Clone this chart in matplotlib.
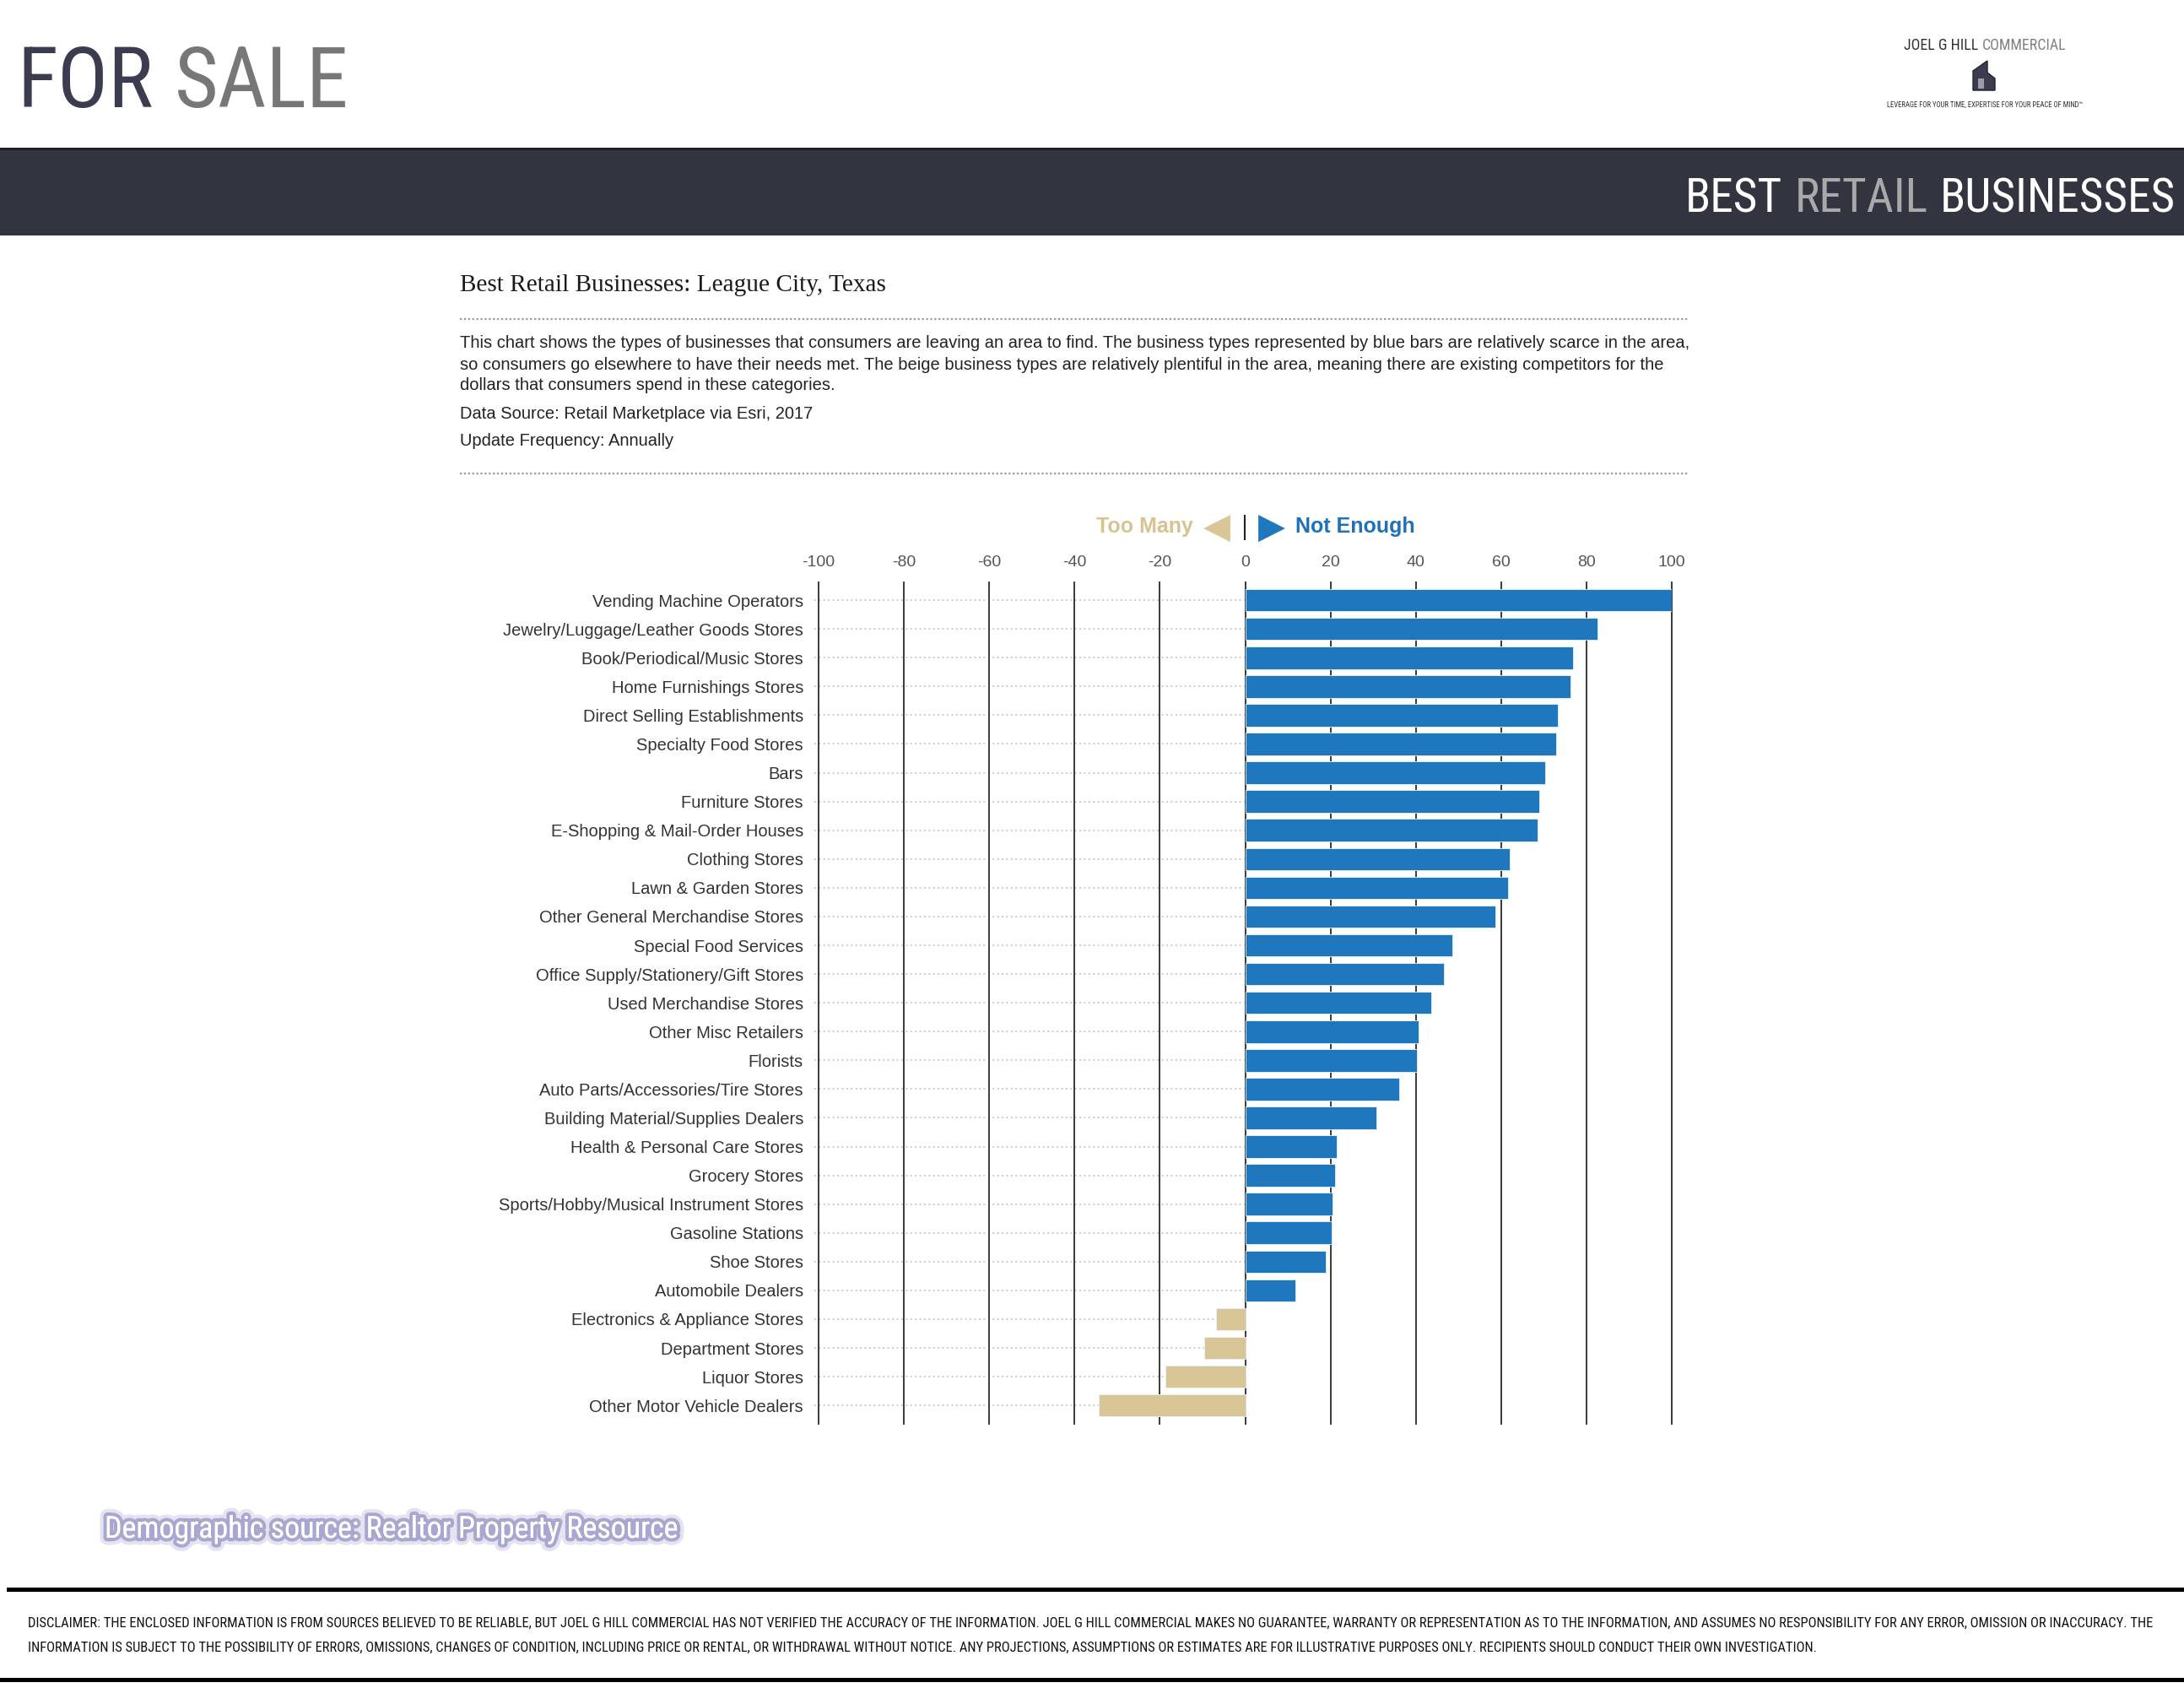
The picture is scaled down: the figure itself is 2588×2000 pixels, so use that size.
import matplotlib
matplotlib.use('Agg')
import matplotlib.pyplot as plt
import matplotlib.patheffects as pe
from matplotlib import font_manager
from matplotlib.patches import Rectangle, Polygon
from matplotlib.lines import Line2D

W, H = 2588, 2000

categories = [
    "Vending Machine Operators",
    "Jewelry/Luggage/Leather Goods Stores",
    "Book/Periodical/Music Stores",
    "Home Furnishings Stores",
    "Direct Selling Establishments",
    "Specialty Food Stores",
    "Bars",
    "Furniture Stores",
    "E-Shopping & Mail-Order Houses",
    "Clothing Stores",
    "Lawn & Garden Stores",
    "Other General Merchandise Stores",
    "Special Food Services",
    "Office Supply/Stationery/Gift Stores",
    "Used Merchandise Stores",
    "Other Misc Retailers",
    "Florists",
    "Auto Parts/Accessories/Tire Stores",
    "Building Material/Supplies Dealers",
    "Health & Personal Care Stores",
    "Grocery Stores",
    "Sports/Hobby/Musical Instrument Stores",
    "Gasoline Stations",
    "Shoe Stores",
    "Automobile Dealers",
    "Electronics & Appliance Stores",
    "Department Stores",
    "Liquor Stores",
    "Other Motor Vehicle Dealers",
]
values = [100, 82.6, 76.9, 76.2, 73.3, 72.9, 70.3, 68.9, 68.5, 62.0, 61.6, 58.6,
          48.6, 46.6, 43.6, 40.6, 40.2, 36.1, 30.7, 21.5, 21.1, 20.5, 20.2, 18.8,
          11.8, -6.8, -9.5, -18.7, -34.4]
x_ticks = [-100, -80, -60, -40, -20, 0, 20, 40, 60, 80, 100]

paragraph = [
    "This chart shows the types of businesses that consumers are leaving an area to find. The business types represented by blue bars are relatively scarce in the area,",
    "so consumers go elsewhere to have their needs met. The beige business types are relatively plentiful in the area, meaning there are existing competitors for the",
    "dollars that consumers spend in these categories.",
]
disclaimer = [
    "DISCLAIMER: THE ENCLOSED INFORMATION IS FROM SOURCES BELIEVED TO BE RELIABLE, BUT JOEL G HILL COMMERCIAL HAS NOT VERIFIED THE ACCURACY OF THE INFORMATION. JOEL G HILL COMMERCIAL MAKES NO GUARANTEE, WARRANTY OR REPRESENTATION AS TO THE INFORMATION, AND ASSUMES NO RESPONSIBILITY FOR ANY ERROR, OMISSION OR INACCURACY. THE",
    "INFORMATION IS SUBJECT TO THE POSSIBILITY OF ERRORS, OMISSIONS, CHANGES OF CONDITION, INCLUDING PRICE OR RENTAL, OR WITHDRAWAL WITHOUT NOTICE. ANY PROJECTIONS, ASSUMPTIONS OR ESTIMATES ARE FOR ILLUSTRATIVE PURPOSES ONLY. RECIPIENTS SHOULD CONDUCT THEIR OWN INVESTIGATION.",
]

BLUE = '#1f77be'
BEIGE = '#d9c697'
NAVY = '#32343f'
DARK = '#3b3c4f'

installed = {f.name for f in font_manager.fontManager.ttflist}


def pick(*names):
    return next((n for n in names if n in installed), 'DejaVu Sans')


NARROW = pick('Liberation Sans Narrow', 'Roboto Condensed', 'DejaVu Sans')
SANS = pick('Liberation Sans', 'Arial', 'DejaVu Sans')
SERIF = pick('Liberation Serif', 'DejaVu Serif')
plt.rcParams['font.family'] = [SANS, 'DejaVu Sans']
plt.rcParams['axes.unicode_minus'] = False

fig = plt.figure(figsize=(W / 100, H / 100), dpi=100)
renderer = fig.canvas.get_renderer()


def fx(x):
    return x / W


def fy(y):
    return 1 - y / H


def fit(s, width, family, **kw):
    # font size that makes s span `width` pixels
    t = fig.text(0, 0, s, fontsize=20, family=family, **kw)
    w = t.get_window_extent(renderer).width
    t.remove()
    return 20 * width / w


def run(x, y, parts, size, family, ha='left', gap=0.26, **kw):
    # several coloured words on one baseline
    texts = [fig.text(0, fy(y), s, color=c, fontsize=size, family=family,
                      va='baseline', **kw) for s, c in parts]
    widths = [t.get_window_extent(renderer).width for t in texts]
    sp = gap * size * 100 / 72
    total = sum(widths) + sp * (len(texts) - 1)
    x0 = {'left': x, 'right': x - total, 'center': x - total / 2}[ha]
    for t, w in zip(texts, widths):
        t.set_x(fx(x0))
        x0 += w + sp
    return texts


# header
fig.add_artist(Rectangle((0, fy(279)), 1, (279 - 175) / H, transform=fig.transFigure,
                         facecolor=NAVY, edgecolor='none'))
fig.add_artist(Line2D([0, 1], [fy(176)] * 2, color='#1e1f26', lw=2))

cond = dict(fontstretch='condensed')
s = fit('FOR SALE', 376, NARROW, **cond) * 1.04
run(20, 127, [('FOR', DARK), ('SALE', '#777777')], s, NARROW, **cond)

s = fit('BEST RETAIL BUSINESSES', 561, NARROW, **cond) * 1.03
run(2578, 251, [('BEST', 'white'), ('RETAIL', '#a9a9a9'), ('BUSINESSES', 'white')],
    s, NARROW, ha='right', **cond)

# logo
s = fit('JOEL G HILL COMMERCIAL', 192, NARROW, **cond)
run(2352, 59, [('JOEL G HILL', '#2e2f3a'), ('COMMERCIAL', '#808080')], s, NARROW,
    ha='center', **cond)
tag = 'LEVERAGE FOR YOUR TIME, EXPERTISE FOR YOUR PEACE OF MIND\u2122'
s = fit(tag, 234, NARROW, **cond)
fig.text(fx(2352), fy(124), tag, fontsize=s, family=NARROW, ha='center', va='center',
         color='#333333', **cond)
bld = [(2338, 107), (2338, 84), (2355, 72), (2355, 86), (2364, 93), (2364, 107)]
fig.add_artist(Polygon([(fx(a), fy(b)) for a, b in bld], closed=True, transform=fig.transFigure,
                       facecolor=DARK, edgecolor='#222', lw=1))
fig.add_artist(Rectangle((fx(2344), fy(105)), 7 / W, 12 / H, transform=fig.transFigure,
                         facecolor='#9c9ca8', edgecolor='none'))

# chart heading and notes
s = fit('Best Retail Businesses: League City, Texas', 505, SERIF)
fig.text(fx(545), fy(338), 'Best Retail Businesses: League City, Texas', fontsize=s,
         family=SERIF, va='center', color='#1a1a1a')
for yy in (378, 561):
    fig.add_artist(Line2D([fx(545), fx(2000)], [fy(yy)] * 2, color='#9a9a9a', lw=1.6,
                          ls=(0, (1, 1.2))))
s = fit(paragraph[0], 1452, SANS)
for line, yy in zip(paragraph, (406, 432, 457)):
    fig.text(fx(545), fy(yy), line, fontsize=s, va='center', color='#222222')
fig.text(fx(545), fy(490), 'Data Source: Retail Marketplace via Esri, 2017', fontsize=s,
         va='center', color='#222222')
fig.text(fx(545), fy(522), 'Update Frequency: Annually', fontsize=s, va='center',
         color='#222222')

# legend strip
fig.text(fx(1414), fy(624), 'Too Many', fontsize=18, ha='right', va='center',
         color='#d8c28f', fontweight='semibold')
fig.text(fx(1442), fy(626), '\u25c0', fontsize=30, ha='center', va='center', color=BEIGE,
         family='DejaVu Sans')
fig.add_artist(Line2D([fx(1475)] * 2, [fy(611), fy(639)], color='#222', lw=1.5))
fig.text(fx(1507), fy(626), '\u25b6', fontsize=30, ha='center', va='center', color=BLUE,
         family='DejaVu Sans')
fig.text(fx(1535), fy(624), 'Not Enough', fontsize=18, ha='left', va='center',
         color='#1f70b8', fontweight='semibold')

# bars
ax = fig.add_axes([fx(970), fy(1687), (1981 - 970) / W, (1687 - 690) / H])
ypos = list(range(len(categories)))
colors = [BLUE if v > 0 else BEIGE for v in values]
ax.hlines(ypos, -101, 0, colors='#c4c4c4', linestyles=(0, (1, 2)), lw=1.3, zorder=1,
          clip_on=False)
for t in x_ticks:
    ax.axvline(t, color='#3a3a3a', lw=1.4, zorder=2, clip_on=False)
ax.barh(ypos, values, height=0.78, color=colors, edgecolor='#e8f1fa', linewidth=0.6, zorder=3)
ax.set_xlim(-100, 100)
ax.set_ylim(len(categories) - 1 + 0.64, -0.62)
ax.set_xticks(x_ticks)
ax.xaxis.tick_top()
ax.tick_params(axis='x', length=0, pad=11, labelsize=14, labelcolor='#555555')
ax.set_yticks(ypos, categories)
ax.tick_params(axis='y', length=0, pad=13, labelsize=14.5, labelcolor='#333333')
for sp in ax.spines.values():
    sp.set_visible(False)

# footer
src = 'Demographic source: Realtor Property Resource'
s = fit(src, 678, NARROW, **cond)
fig.text(fx(124), fy(1812), src, fontsize=s, family=NARROW, va='center', color='white',
         path_effects=[pe.withStroke(linewidth=12, foreground='#c4c4e2', alpha=0.45),
                       pe.withStroke(linewidth=6, foreground='#9d9dcc', alpha=0.85),
                       pe.Normal()], **cond)
fig.add_artist(Line2D([fx(10), 1], [fy(1883)] * 2, color='black', lw=3.6))
fig.add_artist(Line2D([0, 1], [fy(1990)] * 2, color='black', lw=3.6))
s = fit(disclaimer[0], 2530, NARROW, **cond)
for line, yy in zip(disclaimer, (1923, 1952)):
    fig.text(fx(33), fy(yy), line, fontsize=s, family=NARROW, va='center', color='#111111',
             **cond)

fig.savefig('out.png', dpi=100)
